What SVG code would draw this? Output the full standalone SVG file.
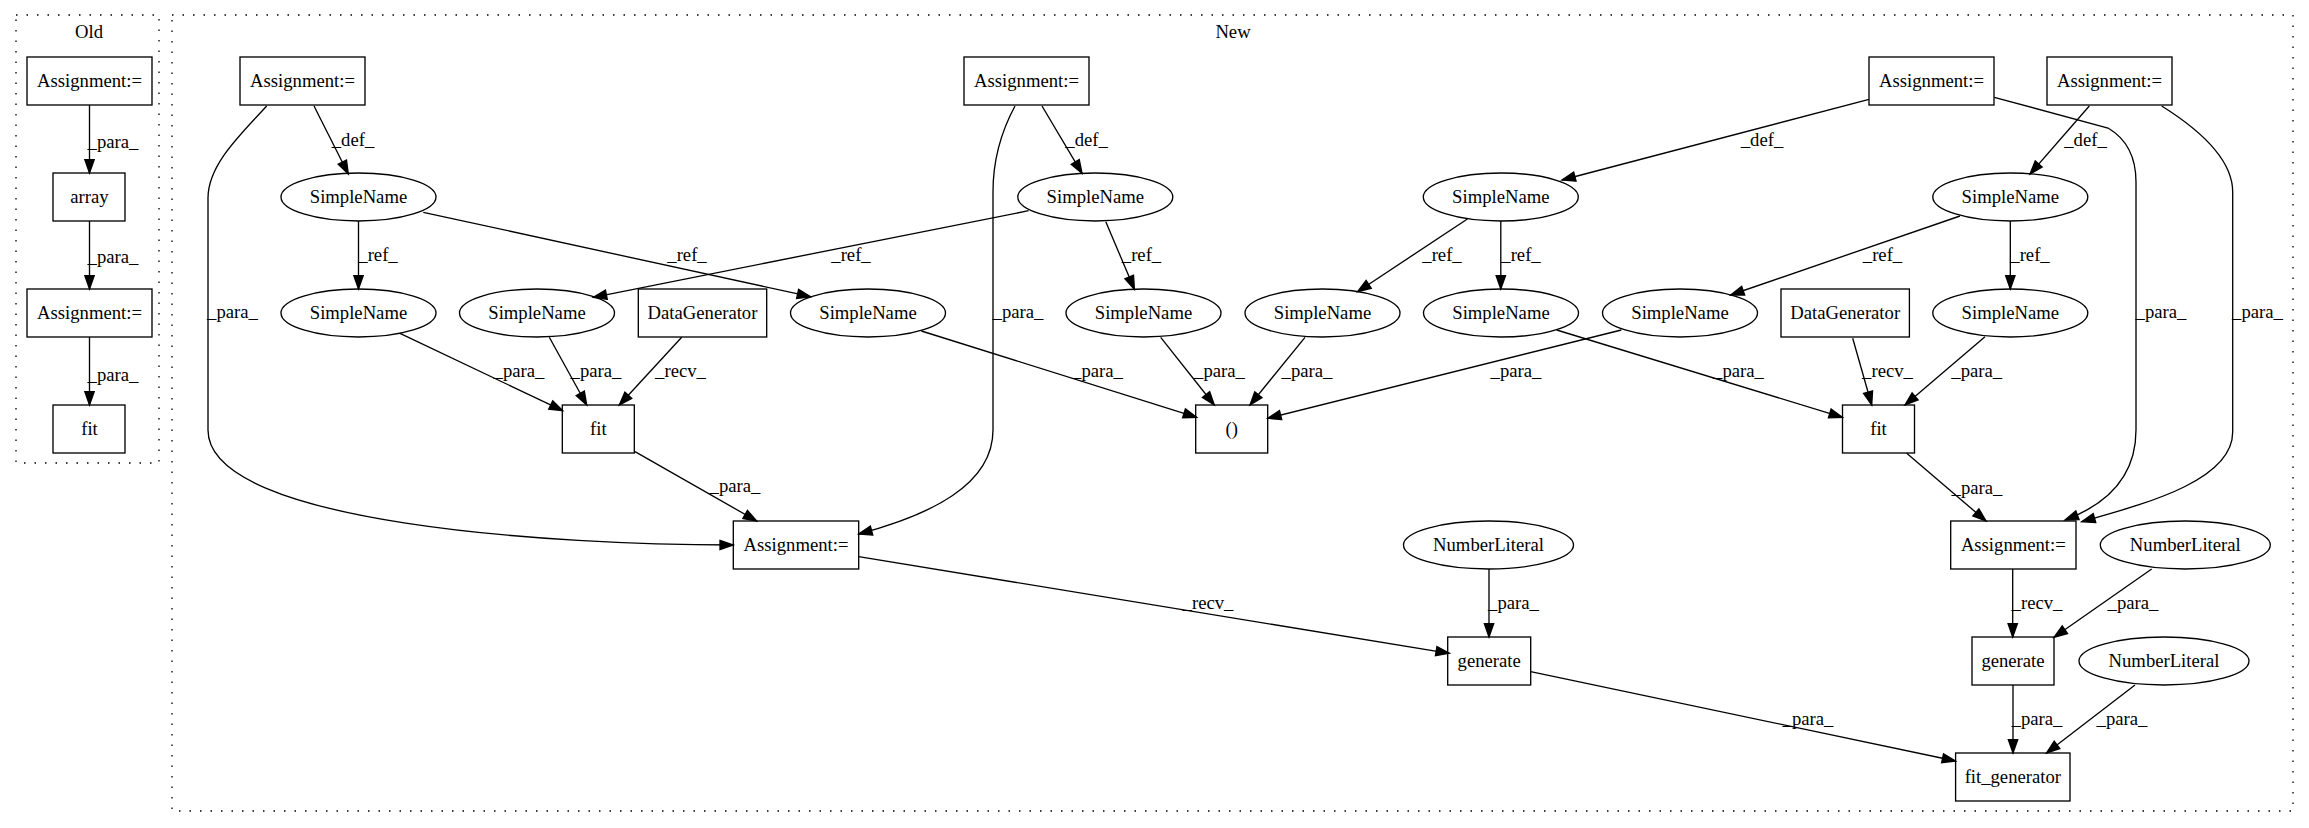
<svg xmlns="http://www.w3.org/2000/svg" width="2309" height="828" viewBox="0 0 2309 828">
<defs>
<marker id="ah" markerUnits="userSpaceOnUse" markerWidth="16" markerHeight="12" refX="13.3" refY="4.67" orient="auto" overflow="visible">
<path d="M0,0 L13.3,4.67 L0,9.33 z" fill="#000" stroke="#000" stroke-width="1.33"/>
</marker>
</defs>
<style>
text{font-family:"Liberation Serif","Times New Roman",serif;font-size:18.67px;fill:#000}
.n{text-anchor:middle}
.l{text-anchor:middle}
.box,.ell{fill:none;stroke:#000;stroke-width:1.33}
.cl{fill:none;stroke:#000;stroke-width:1.33;stroke-dasharray:1.5,9}
.e{fill:none;stroke:#000;stroke-width:1.33;marker-end:url(#ah)}
</style>
<rect width="2309" height="828" fill="#fff"/>
<g id="cluster_old">
<rect class="cl" x="16" y="15" width="143" height="448"/>
<text class="n" x="89" y="38">Old</text>
</g>
<g id="cluster_new">
<rect class="cl" x="172" y="15" width="2121" height="796"/>
<text class="n" x="1233" y="38">New</text>
</g>
<g id="old_assign1"><rect class="box" x="27" y="57" width="125" height="48"/><text class="n" x="89.5" y="87">Assignment:=</text></g>
<g id="old_array"><rect class="box" x="53" y="173" width="72" height="48"/><text class="n" x="89.5" y="203">array</text></g>
<g id="old_assign2"><rect class="box" x="27" y="289" width="125" height="48"/><text class="n" x="89.5" y="319">Assignment:=</text></g>
<g id="old_fit"><rect class="box" x="53" y="405" width="72" height="48"/><text class="n" x="89.5" y="435">fit</text></g>

<g id="A1"><rect class="box" x="240" y="57" width="125" height="48"/><text class="n" x="302.5" y="87">Assignment:=</text></g>
<g id="A2"><rect class="box" x="964" y="57" width="125" height="48"/><text class="n" x="1026.5" y="87">Assignment:=</text></g>
<g id="A3"><rect class="box" x="1869" y="57" width="125" height="48"/><text class="n" x="1931.5" y="87">Assignment:=</text></g>
<g id="A4"><rect class="box" x="2047" y="57" width="125" height="48"/><text class="n" x="2109.5" y="87">Assignment:=</text></g>
<g id="S1"><ellipse class="ell" cx="358.5" cy="197" rx="77.5" ry="24"/><text class="n" x="358.5" y="203">SimpleName</text></g>
<g id="S2"><ellipse class="ell" cx="1095.3" cy="197" rx="77.5" ry="24"/><text class="n" x="1095.3" y="203">SimpleName</text></g>
<g id="S3"><ellipse class="ell" cx="1500.8" cy="197" rx="77.5" ry="24"/><text class="n" x="1500.8" y="203">SimpleName</text></g>
<g id="S4"><ellipse class="ell" cx="2010.3" cy="197" rx="77.5" ry="24"/><text class="n" x="2010.3" y="203">SimpleName</text></g>
<g id="S1a"><ellipse class="ell" cx="358.5" cy="313" rx="77.5" ry="24"/><text class="n" x="358.5" y="319">SimpleName</text></g>
<g id="S2b"><ellipse class="ell" cx="537" cy="313" rx="77.5" ry="24"/><text class="n" x="537" y="319">SimpleName</text></g>
<g id="DG1"><rect class="box" x="638.3" y="289" width="128.4" height="48"/><text class="n" x="702.5" y="319">DataGenerator</text></g>
<g id="S1b"><ellipse class="ell" cx="868" cy="313" rx="77.5" ry="24"/><text class="n" x="868" y="319">SimpleName</text></g>
<g id="S2a"><ellipse class="ell" cx="1143.5" cy="313" rx="77.5" ry="24"/><text class="n" x="1143.5" y="319">SimpleName</text></g>
<g id="S3b"><ellipse class="ell" cx="1322.5" cy="313" rx="77.5" ry="24"/><text class="n" x="1322.5" y="319">SimpleName</text></g>
<g id="S3a"><ellipse class="ell" cx="1501" cy="313" rx="77.5" ry="24"/><text class="n" x="1501" y="319">SimpleName</text></g>
<g id="S4b"><ellipse class="ell" cx="1680" cy="313" rx="77.5" ry="24"/><text class="n" x="1680" y="319">SimpleName</text></g>
<g id="DG2"><rect class="box" x="1781" y="289" width="128.4" height="48"/><text class="n" x="1845.2" y="319">DataGenerator</text></g>
<g id="S4a"><ellipse class="ell" cx="2010.3" cy="313" rx="77.5" ry="24"/><text class="n" x="2010.3" y="319">SimpleName</text></g>
<g id="fit1"><rect class="box" x="562.3" y="405" width="72" height="48"/><text class="n" x="598.3" y="435">fit</text></g>
<g id="paren"><rect class="box" x="1195.7" y="405" width="72" height="48"/><text class="n" x="1231.7" y="435">()</text></g>
<g id="fit2"><rect class="box" x="1842.5" y="405" width="72" height="48"/><text class="n" x="1878.5" y="435">fit</text></g>
<g id="A5"><rect class="box" x="733.3" y="521" width="125.4" height="48"/><text class="n" x="796" y="551">Assignment:=</text></g>
<g id="A6"><rect class="box" x="1950.7" y="521" width="125.3" height="48"/><text class="n" x="2013.3" y="551">Assignment:=</text></g>
<g id="NL1"><ellipse class="ell" cx="1488.5" cy="545" rx="85" ry="24"/><text class="n" x="1488.5" y="551">NumberLiteral</text></g>
<g id="NL2"><ellipse class="ell" cx="2185.3" cy="545" rx="85" ry="24"/><text class="n" x="2185.3" y="551">NumberLiteral</text></g>
<g id="gen1"><rect class="box" x="1447.7" y="637" width="83" height="48"/><text class="n" x="1489.2" y="667">generate</text></g>
<g id="gen2"><rect class="box" x="1972" y="637" width="82" height="48"/><text class="n" x="2013" y="667">generate</text></g>
<g id="NL3"><ellipse class="ell" cx="2164" cy="661" rx="85" ry="24"/><text class="n" x="2164" y="667">NumberLiteral</text></g>
<g id="fitgen"><rect class="box" x="1955.6" y="753" width="114.4" height="48"/><text class="n" x="2012.8" y="783">fit_generator</text></g>

<g id="connectors">
<path class="e" d="M89.5,105 L89.5,173"/>
<path class="e" d="M89.5,221 L89.5,289"/>
<path class="e" d="M89.5,337 L89.5,405"/>
<path class="e" d="M314,106 L348.3,174"/>
<path class="e" d="M266.7,106 C240,135 208,165 208,198 L208,430 C208,525 560,545 733.3,545"/>
<path class="e" d="M358.5,221 L358.5,289"/>
<path class="e" d="M423.3,212.3 L810.6,296.7"/>
<path class="e" d="M1042,106 L1082,173.3"/>
<path class="e" d="M1015,106 C1002,130 993,160 993,192 L993,430 C993,485 930,515 858.7,534"/>
<path class="e" d="M1028.6,210.7 L593.3,297.3"/>
<path class="e" d="M1105.8,221.7 L1134.4,289.3"/>
<path class="e" d="M1869,99.3 L1562,180"/>
<path class="e" d="M1994.3,97.3 L2108,128 C2125,138 2136,155 2136,182 L2136,430 C2136,478 2105,505 2065,520"/>
<path class="e" d="M2089.3,106 L2030,174"/>
<path class="e" d="M2161.7,106 C2200,130 2232.7,160 2232.7,192 L2232.7,432 C2232.7,482 2140,505 2081.7,521.7"/>
<path class="e" d="M1467.4,219 L1357.6,291.7"/>
<path class="e" d="M1500.8,221 L1500.8,289"/>
<path class="e" d="M1960,216 L1730.6,295"/>
<path class="e" d="M2010.3,221 L2010.3,289"/>
<path class="e" d="M400,333.3 L562.7,410.7"/>
<path class="e" d="M549.3,337.3 L586.7,405"/>
<path class="e" d="M681.7,337.3 L619.3,405"/>
<path class="e" d="M921.4,331 L1196.7,417.3"/>
<path class="e" d="M1160.7,337.3 L1214.3,405"/>
<path class="e" d="M1305,337.3 L1250,405"/>
<path class="e" d="M1621.3,330 L1267.7,418.3"/>
<path class="e" d="M1556.7,330 L1842.5,417.3"/>
<path class="e" d="M1852.7,338.3 L1871.7,405"/>
<path class="e" d="M1985,336.7 L1905,405"/>
<path class="e" d="M635,451.7 L756.7,521"/>
<path class="e" d="M1906.7,453.3 L1986,521"/>
<path class="e" d="M858.7,556.7 L1449.3,653.3"/>
<path class="e" d="M1489,569 L1489,637"/>
<path class="e" d="M2012.7,569 L2012.7,637"/>
<path class="e" d="M2151.7,569 L2054,637.3"/>
<path class="e" d="M1530.7,671.7 L1955.6,761"/>
<path class="e" d="M2013,685 L2013,753"/>
<path class="e" d="M2135,685 L2046.5,753"/>

<text class="l" x="113" y="148">_para_</text>
<text class="l" x="113" y="263">_para_</text>
<text class="l" x="113" y="381">_para_</text>
<text class="l" x="353" y="146">_def_</text>
<text class="l" x="232.5" y="318">_para_</text>
<text class="l" x="378" y="261">_ref_</text>
<text class="l" x="687" y="261">_ref_</text>
<text class="l" x="1086.6" y="146">_def_</text>
<text class="l" x="1018" y="318">_para_</text>
<text class="l" x="851" y="261">_ref_</text>
<text class="l" x="1141.5" y="261">_ref_</text>
<text class="l" x="1762" y="146">_def_</text>
<text class="l" x="2161" y="318">_para_</text>
<text class="l" x="2085.5" y="146">_def_</text>
<text class="l" x="2257.5" y="318">_para_</text>
<text class="l" x="1442" y="261">_ref_</text>
<text class="l" x="1521" y="261">_ref_</text>
<text class="l" x="1882.5" y="261">_ref_</text>
<text class="l" x="2030" y="261">_ref_</text>
<text class="l" x="519" y="377">_para_</text>
<text class="l" x="596" y="377">_para_</text>
<text class="l" x="680.5" y="377">_recv_</text>
<text class="l" x="1097.5" y="377">_para_</text>
<text class="l" x="1219.5" y="377">_para_</text>
<text class="l" x="1307" y="377">_para_</text>
<text class="l" x="1516" y="377">_para_</text>
<text class="l" x="1738.5" y="377">_para_</text>
<text class="l" x="1887.5" y="377">_recv_</text>
<text class="l" x="1976.7" y="377">_para_</text>
<text class="l" x="735" y="492">_para_</text>
<text class="l" x="1977" y="494">_para_</text>
<text class="l" x="1208" y="609">_recv_</text>
<text class="l" x="1513.5" y="609">_para_</text>
<text class="l" x="2037" y="609">_recv_</text>
<text class="l" x="2133" y="609">_para_</text>
<text class="l" x="1808" y="725">_para_</text>
<text class="l" x="2037" y="725">_para_</text>
<text class="l" x="2122" y="725">_para_</text>
</g>
</svg>
